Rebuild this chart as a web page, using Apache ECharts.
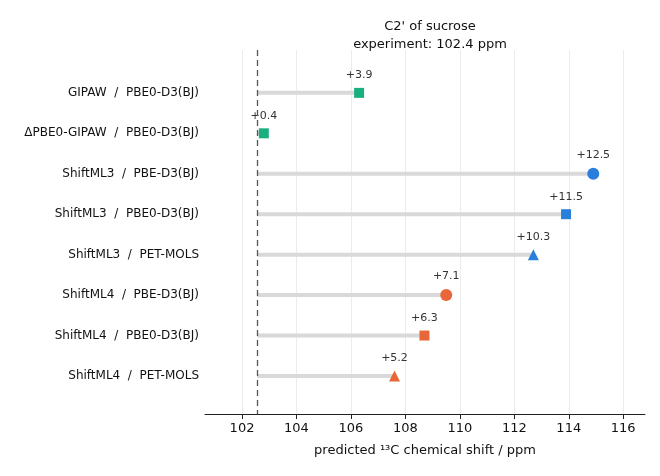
<!DOCTYPE html>
<html><head><meta charset="utf-8">
<script src="https://cdn.jsdelivr.net/npm/echarts@6/dist/echarts.min.js"></script>
</head><body style="margin:0">
<div id="main" style="width:660px;height:476px"></div>
<script>
var methods = ['GIPAW  /  PBE0-D3(BJ)', 'ΔPBE0-GIPAW  /  PBE0-D3(BJ)', 'ShiftML3  /  PBE-D3(BJ)',
  'ShiftML3  /  PBE0-D3(BJ)', 'ShiftML3  /  PET-MOLS', 'ShiftML4  /  PBE-D3(BJ)',
  'ShiftML4  /  PBE0-D3(BJ)', 'ShiftML4  /  PET-MOLS'];
var predicted = [106.3, 102.8, 114.9, 113.9, 112.7, 109.5, 108.7, 107.6];
var deltas = ['+3.9', '+0.4', '+12.5', '+11.5', '+10.3', '+7.1', '+6.3', '+5.2'];
var shapes = ['rect', 'rect', 'circle', 'rect', 'triangle', 'circle', 'rect', 'triangle'];
var colors = ['#1aaf7f', '#1aaf7f', '#2a7fdc', '#2a7fdc', '#2a7fdc', '#e8663a', '#e8663a', '#e8663a'];
var experiment = 102.55;
var xTicks = [102, 104, 106, 108, 110, 112, 114, 116];

var series = [];
predicted.forEach(function (v, i) {
  series.push({
    type: 'line', data: [[experiment, i], [v, i]], symbol: 'none', silent: true,
    lineStyle: { color: '#d9d9d9', width: 4 }, z: 1
  });
});
series.push({
  type: 'scatter', z: 3,
  data: predicted.map(function (v, i) {
    return {
      value: [v, i], symbol: shapes[i],
      symbolSize: shapes[i] === 'circle' ? 12 : shapes[i] === 'triangle' ? 11 : 10,
      itemStyle: { color: colors[i], opacity: 1 },
      label: { show: true, position: 'top', distance: 7, formatter: deltas[i], color: '#333', fontSize: 11 }
    };
  }),
  markLine: {
    silent: true, symbol: 'none', label: { show: false },
    lineStyle: { color: '#555', type: [6, 4], width: 1.3 },
    data: [{ xAxis: experiment }]
  }
});

var chart = echarts.init(document.getElementById('main'));
chart.setOption({
  animation: false,
  textStyle: { fontFamily: 'DejaVu Sans' },
  title: {
    text: "C2' of sucrose\nexperiment: 102.4 ppm", left: 425, top: 13, textAlign: 'center',
    textStyle: { fontSize: 13, fontWeight: 'normal', color: '#111', lineHeight: 18 }
  },
  grid: { left: 205, right: 15, top: 50, bottom: 62 },
  xAxis: {
    type: 'value', min: 100.64, max: 116.8,
    name: 'predicted ¹³C chemical shift / ppm', nameLocation: 'middle', nameGap: 30,
    nameTextStyle: { fontSize: 13, color: '#111' },
    axisLine: { show: true, onZero: false, lineStyle: { color: '#222' } },
    axisTick: { show: true, customValues: xTicks, lineStyle: { color: '#222' } },
    axisLabel: { customValues: xTicks, fontSize: 13, color: '#111' },
    splitLine: { show: true, lineStyle: { color: '#ececec' } }
  },
  yAxis: {
    type: 'value', inverse: true, min: -1.06, max: 7.94,
    axisLine: { show: false }, axisTick: { show: false }, splitLine: { show: false },
    axisLabel: {
      customValues: [0, 1, 2, 3, 4, 5, 6, 7], fontSize: 12, color: '#111', margin: 6,
      formatter: function (v) { return methods[v]; }
    }
  },
  series: series
});
</script>
</body></html>
